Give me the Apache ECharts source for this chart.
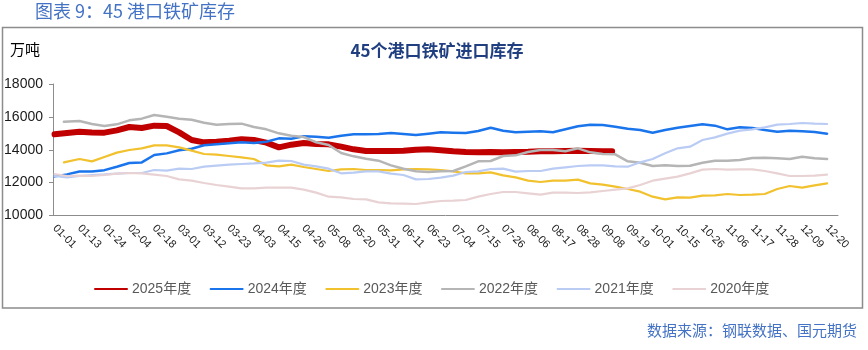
<!DOCTYPE html>
<html>
<head>
<meta charset="utf-8">
<script src="https://cdn.jsdelivr.net/npm/echarts@6/dist/echarts.min.js"></script>
<style>
  html, body { margin: 0; padding: 0; background: #fff; }
  #chart { width: 868px; height: 350px; }
</style>
</head>
<body>
<div id="chart"></div>
<script>
// 横轴标签（每8个类目显示一个）
const tickLabels = ['01-01', '01-13', '01-24', '02-04', '02-18', '03-01', '03-12', '03-23',
  '04-03', '04-15', '04-26', '05-08', '05-20', '05-31', '06-11', '06-23',
  '07-04', '07-15', '07-26', '08-06', '08-17', '08-28', '09-08', '09-19',
  '10-01', '10-15', '10-26', '11-06', '11-17', '11-28', '12-09', '12-20']
const categoryCount = 252

// 采样点位置（类目序号）
const every4 = (a, b) => { const r = []; for (let i = a; i <= b; i += 4) r.push(i); return r }
const pos2025 = every4(0, 176).concat([179])
const posFull = every4(0, 248)
const posLate = [3].concat(every4(8, 248))

// 各年度库存（万吨）
const v2025 = [14938, 15019, 15100, 15050, 15040, 15180, 15384, 15323, 15465, 15445, 15060, 14593,
  14451, 14492, 14553, 14634, 14593, 14431, 14147, 14309, 14411, 14350, 14330, 14187, 14025, 13924,
  13924, 13924, 13944, 14005, 14025, 13965, 13904, 13863, 13843, 13863, 13843, 13863, 13883, 13904,
  13904, 13924, 13944, 13924, 13904, 13904]
const v2024 = [12380, 12500, 12680, 12680, 12760, 12970, 13190, 13230, 13680, 13780, 13965, 14065,
  14270, 14330, 14390, 14450, 14410, 14490, 14694, 14675, 14815, 14796, 14735, 14857, 14938, 14938,
  14958, 15019, 14958, 14897, 14978, 15060, 15040, 15019, 15141, 15343, 15161, 15060, 15100, 15120,
  15060, 15242, 15425, 15526, 15506, 15404, 15283, 15201, 15040, 15201, 15343, 15445, 15546, 15465,
  15242, 15364, 15323, 15201, 15100, 15161, 15120, 15080, 14978]
const v2023 = [13235, 13437, 13295, 13560, 13823, 13985, 14086, 14268, 14268, 14147, 13944, 13741,
  13700, 13620, 13539, 13437, 13052, 12991, 13092, 12950, 12829, 12707, 12808, 12829, 12768, 12768,
  12748, 12808, 12829, 12808, 12768, 12680, 12565, 12565, 12626, 12443, 12322, 12119, 12038, 12119,
  12119, 12180, 11957, 11876, 11754, 11612, 11450, 11145, 10983, 11105, 11085, 11206, 11226, 11308,
  11247, 11267, 11308, 11612, 11794, 11693, 11835, 11957]
const v2022 = [15708, 15749, 15566, 15445, 15546, 15790, 15891, 16114, 16012, 15891, 15830, 15648,
  15526, 15566, 15587, 15384, 15242, 14999, 14857, 14776, 14451, 14289, 13802, 13599, 13457, 13336,
  13052, 12849, 12687, 12646, 12687, 12707, 12991, 13295, 13316, 13620, 13660, 13863, 13985, 13985,
  13904, 14086, 13843, 13741, 13721, 13295, 13214, 13011, 13052, 13011, 13032, 13214, 13336, 13336,
  13376, 13498, 13518, 13478, 13437, 13579, 13478, 13437]
const v2021 = [12403, 12322, 12403, 12464, 12504, 12545, 12585, 12585, 12768, 12727, 12849, 12829,
  12971, 13032, 13092, 13133, 13173, 13214, 13336, 13316, 13092, 12991, 12849, 12565, 12606, 12687,
  12687, 12545, 12464, 12200, 12220, 12301, 12423, 12646, 12687, 12829, 12849, 12666, 12707, 12707,
  12849, 12930, 13011, 13052, 13052, 12991, 12971, 13235, 13437, 13782, 14086, 14187, 14593, 14755,
  14978, 15161, 15242, 15364, 15526, 15567, 15627, 15587, 15567]
const v2020 = [12524, 12403, 12423, 12403, 12464, 12545, 12585, 12565, 12484, 12403, 12200, 12119,
  11977, 11855, 11754, 11652, 11652, 11693, 11693, 11693, 11571, 11389, 11145, 11105, 11004, 10983,
  10801, 10740, 10720, 10699, 10801, 10882, 10910, 10943, 11145, 11308, 11429, 11429, 11348, 11267,
  11389, 11389, 11369, 11409, 11490, 11571, 11652, 11855, 12119, 12240, 12362, 12565, 12788, 12829,
  12788, 12808, 12808, 12707, 12565, 12403, 12403, 12423, 12484]

// 由标签日期补齐中间的工作日类目
const categories = []
tickLabels.forEach((lab) => {
  const d = new Date(2025, +lab.slice(0, 2) - 1, +lab.slice(3))
  categories.push(lab)
  let n = 0
  while (n < 7) {
    d.setDate(d.getDate() + 1)
    if (d.getDay() === 0 || d.getDay() === 6) continue
    categories.push(String(d.getMonth() + 1).padStart(2, '0') + '-' + String(d.getDate()).padStart(2, '0'))
    n++
  }
})
categories.length = categoryCount

const pairs = (p, v) => v.map((y, i) => [p[i], y])

const FONT = "'Liberation Sans', Arial, 'Noto Sans CJK SC', sans-serif"
const mk = (name, data, color, width) => ({
  name, type: 'line', data, symbol: 'none', smooth: false,
  lineStyle: { color, width, cap: 'round' }, itemStyle: { color },
  emphasis: { disabled: true }
})

const chart = echarts.init(document.getElementById('chart'))
chart.setOption({
  animation: false,
  backgroundColor: '#fff',
  graphic: [
    { type: 'rect', shape: { x: 2.5, y: 27.5, width: 860, height: 280.5 },
      style: { fill: 'none', stroke: '#8c8c8c', lineWidth: 1.5 }, silent: true },
    { type: 'text', left: 35, top: 2,
      style: { text: '图表 9：45 港口铁矿库存', fill: '#4472C4', font: "18px 'Noto Sans CJK SC', sans-serif" } },
    { type: 'text', left: 10, top: 42,
      style: { text: '万吨', fill: '#000', font: "15px 'Noto Sans CJK SC', sans-serif" } },
    { type: 'text', right: 11, top: 323,
      style: { text: '数据来源：钢联数据、国元期货', fill: '#4472C4', font: "15px 'Noto Sans CJK SC', sans-serif" } }
  ],
  title: {
    text: '45个港口铁矿进口库存', left: 432, top: 37, textAlign: 'center',
    textStyle: { color: '#1F3F80', fontSize: 17, fontWeight: 'bold', fontFamily: "'Noto Sans CJK SC', sans-serif" }
  },
  legend: {
    left: 89, top: 277, itemWidth: 32, itemHeight: 14, itemGap: 18.5,
    itemStyle: { opacity: 0 },
    textStyle: { color: '#595959', fontSize: 14, fontFamily: FONT }
  },
  grid: { left: 53, right: 30, top: 84, bottom: 134.5 },
  xAxis: {
    type: 'category', data: categories, boundaryGap: true,
    axisLine: { lineStyle: { color: '#8c8c8c', width: 1 } },
    axisTick: { interval: 0, length: 3, lineStyle: { color: '#8c8c8c' } },
    axisLabel: { interval: 7, rotate: -45, margin: 11, color: '#1a1a1a', fontSize: 11, fontFamily: FONT },
    splitLine: { show: false }
  },
  yAxis: {
    type: 'value', min: 10000, max: 18000, interval: 2000,
    axisLine: { show: true, lineStyle: { color: '#8c8c8c', width: 1 } },
    axisTick: { show: true, length: 4, lineStyle: { color: '#8c8c8c' } },
    axisLabel: { margin: 10, color: '#1a1a1a', fontSize: 14, fontFamily: FONT, formatter: (v) => String(v) },
    splitLine: { show: false }
  },
  series: [
    mk('2025年度', pairs(pos2025, v2025), '#C00000', 6),
    mk('2024年度', pairs(posFull, v2024), '#1A74EC', 2.5),
    mk('2023年度', pairs(posLate, v2023), '#F2C12E', 2.2),
    mk('2022年度', pairs(posLate, v2022), '#B5B5B5', 2.5),
    mk('2021年度', pairs(posFull, v2021), '#BACCF4', 2.2),
    mk('2020年度', pairs(posFull, v2020), '#E9D2D4', 2.2)
  ]
})
</script>
</body>
</html>
